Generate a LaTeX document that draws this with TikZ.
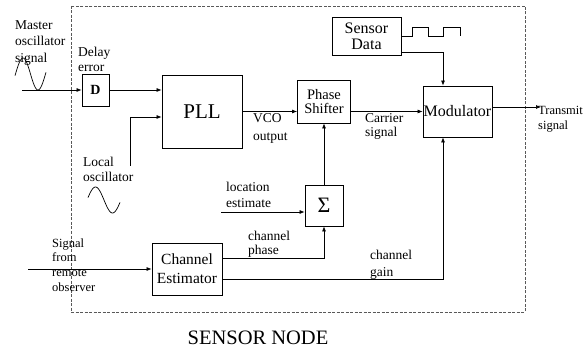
\documentclass[tikz,border=0pt]{standalone}
\usepackage{fontspec}
\setmainfont{Liberation Serif}
\usetikzlibrary{arrows.meta}
\begin{document}
\begin{tikzpicture}[x=1pt,y=-1pt,
  blk/.style={draw,line width=0.8pt,inner sep=0pt,align=center},
  lbl/.style={inner sep=0pt,anchor=west,align=left},
  arr/.style={-{Latex[length=5pt,width=4pt]},line width=0.7pt},
  ln/.style={line width=0.7pt}]
\useasboundingbox (0,0) rectangle (587,350);
\draw[dash pattern=on 3pt off 1.5pt,line width=0.6pt,gray!70!black] (71,6) rectangle (525,312);
% blocks
\node[blk,minimum width=27pt,minimum height=32pt,font=\bfseries\fontsize{14}{16}\selectfont] (D) at (95.5,90) {D};
\node[blk,minimum width=80pt,minimum height=73pt,font=\fontsize{21}{24}\selectfont] (PLL) at (202,111.5) {PLL};
\node[blk,minimum width=53pt,minimum height=43pt,font=\fontsize{14.5}{14}\selectfont] (PS) at (324,101.5) {Phase\\Shifter};
\node[blk,minimum width=69pt,minimum height=51pt,font=\fontsize{16}{18}\selectfont] (Mod) at (457.5,111.5) {Modulator};
\node[blk,minimum width=69pt,minimum height=38pt,font=\fontsize{16}{16}\selectfont] (SD) at (366.5,36) {Sensor\\Data};
\node[blk,minimum width=38pt,minimum height=41pt,font=\fontsize{22}{24}\selectfont] (Sig) at (324,205.5) {Σ};
\node[blk,minimum width=70pt,minimum height=52pt,font=\fontsize{15.5}{19}\selectfont] (CE) at (187,269) {Channel\\Estimator};
% coordinates
\coordinate (min) at (22,90);
\coordinate (lo) at (130,166);
\coordinate (tx) at (541,107);
\coordinate (gx) at (443,52);
\coordinate (loc) at (221,212);
\coordinate (cp) at (0,258);
\coordinate (cg) at (0,279);
\coordinate (rem) at (28,269);
% connectors
\draw[arr] (min) -- (D.west);
\draw[arr] (D.east) -- (D.east -| PLL.west);
\draw[arr] (lo) |- ([yshift=-5.5pt]PLL.west);
\draw[arr] (PLL.east) -- (PLL.east -| PS.west);
\draw[arr] (PS.east |- Mod.west) -- (Mod.west);
\draw[arr] (Mod.east |- tx) -- (tx);
\draw[arr] (SD.east |- gx) -| (Mod.north -| gx);
\draw[arr] (loc) -- (loc -| Sig.west);
\draw[arr] (Sig.north) -- (PS.south);
\draw[arr] (CE.east |- cp) -| (Sig.south);
\draw[arr] (CE.east |- cg) -| (Mod.south -| gx);
\draw[arr] (rem) -- (CE.west);
% square wave
\draw[ln] (SD.east) -- (412,36) -- (412,27) -- (428,27) -- (428,36) -- (443,36) -- (443,27) -- (460,27) -- (460,36);
% sine waves
\draw[ln] plot[domain=15:46,samples=40,smooth] (\x,{74-16*sin(360*(\x-15.5)/30)});
\draw[ln] plot[domain=88:120,samples=40,smooth] (\x,{200-13*sin(360*(\x-87)/34)});
% labels
\node[lbl,font=\fontsize{13.5}{16.5}\selectfont] (tm) at (15,43) {Master\\oscillator\\signal};
\node[lbl,font=\fontsize{13.5}{15.5}\selectfont] (tde) at (78,59.5) {Delay\\error};
\node[lbl,font=\fontsize{13.5}{18}\selectfont] (tvco) at (253,128) {VCO\\output};
\node[lbl,font=\fontsize{13.5}{15}\selectfont] (tlo) at (83,169.5) {Local\\oscillator};
\node[lbl,font=\fontsize{13.5}{14}\selectfont] (tcs) at (365,126) {Carrier\\signal};
\node[lbl,font=\fontsize{12.5}{15}\selectfont] (tts) at (538,119.5) {Transmit\\signal};
\node[lbl,font=\fontsize{13.5}{16}\selectfont] (tle) at (226,195) {location\\estimate};
\node[lbl,font=\fontsize{13.5}{14}\selectfont] (tcp) at (248,244) {channel\\phase};
\node[lbl,font=\fontsize{13.5}{17}\selectfont] (tcg) at (370,264.5) {channel\\gain};
\node[lbl,font=\fontsize{12.5}{14.7}\selectfont] (trem) at (52,265) {Signal\\from\\remote\\observer};
\node[inner sep=0pt,font=\fontsize{20.5}{24}\selectfont] (title) at (258,338) {SENSOR NODE};
\end{tikzpicture}
\end{document}
